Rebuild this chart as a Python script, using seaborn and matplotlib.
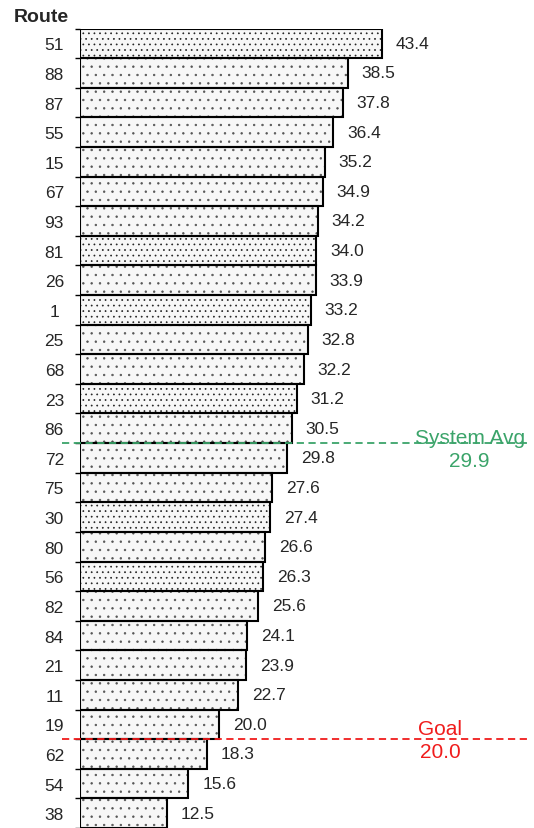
import pandas as pd
import matplotlib.pyplot as plt
import seaborn as sns
import numpy as np

# Route values, already sorted high to low
routes = ['51', '88', '87', '55', '15', '67', '93', '81', '26', '1', '25', '68', '23', '86',
          '72', '75', '30', '80', '56', '82', '84', '21', '11', '19', '62', '54', '38']
values = [43.4, 38.5, 37.8, 36.4, 35.2, 34.9, 34.2, 34.0, 33.9, 33.2, 32.8, 32.2, 31.2, 30.5,
          29.8, 27.6, 27.4, 26.6, 26.3, 25.6, 24.1, 23.9, 22.7, 20.0, 18.3, 15.6, 12.5]
# routes drawn with the denser dot pattern
dense_routes = ['51', '81', '1', '23', '30', '56']

system_avg = 29.9
goal = 20.0

green = '#3ba46a'
red = '#f01c1c'

sns.set_style('white')
plt.rcParams['font.family'] = ['Liberation Sans', 'DejaVu Sans']
plt.rcParams['hatch.linewidth'] = 0.5

df = pd.DataFrame({'Route': routes, 'Value': values})

fig = plt.figure(figsize=(5.34, 8.29), dpi=100)
ax = fig.add_axes([80 / 534, 0, 450 / 534, (829 - 29.5) / 829])

# layer 1: light fill with grey dot hatching
sns.barplot(data=df, x='Value', y='Route', order=routes, orient='h',
            color='#f7f7f7', saturation=1, edgecolor='#555555', linewidth=0,
            width=1.0, ax=ax)
for patch, r in zip(ax.patches, routes):
    if r in dense_routes:
        patch.set_hatch('...')
        patch.set_edgecolor('#222222')
    else:
        patch.set_hatch('..')
        patch.set_edgecolor('#555555')

# layer 2: black outlines on top
sns.barplot(data=df, x='Value', y='Route', order=routes, orient='h',
            color='black', fill=False, linewidth=1.5, width=1.0, ax=ax)

ax.bar_label(ax.containers[-1], fmt='%.1f', padding=10, fontsize=12.5)

ax.set_xlim(0, 64.75)
ax.set_ylim(len(routes) - 0.5, -0.5)
for s in ax.spines.values():
    s.set_visible(False)
ax.set_xticks([])
ax.set_xlabel('')
ax.set_ylabel('')

# category labels centred, small ticks on the bar boundaries
ax.tick_params(axis='y', which='major', length=0, pad=18.5, labelsize=12.5)
for lab in ax.get_yticklabels():
    lab.set_ha('center')
ax.set_yticks(np.arange(-0.5, len(routes), 1), minor=True)
ax.tick_params(axis='y', which='minor', left=True, length=3.5, width=1, color='black')

# reference lines sit on the boundary where the sorted values cross them
avg_pos = sum(v > system_avg for v in values) - 0.5
goal_pos = sum(v >= goal for v in values) - 0.5

ax.axhline(avg_pos, xmin=-0.04, xmax=0.998, color=green, lw=1.3,
           dashes=(4, 2.5), clip_on=False, zorder=5)
ax.axhline(goal_pos, xmin=-0.04, xmax=0.998, color=red, lw=1.3,
           dashes=(4, 2.5), clip_on=False, zorder=5)

ax.text(56.1, avg_pos - 0.18, 'System Avg', ha='center', va='center', color=green, fontsize=15)
ax.text(56.0, avg_pos + 0.6, f'{system_avg:.1f}', ha='center', va='center', color=green, fontsize=15)
ax.text(51.8, goal_pos - 0.37, 'Goal', ha='center', va='center', color=red, fontsize=15)
ax.text(51.8, goal_pos + 0.4, f'{goal:.1f}', ha='center', va='center', color=red, fontsize=15)

fig.text(41.5 / 534, 1 - 17 / 829, 'Route', ha='center', va='center',
         fontweight='bold', fontsize=14)

fig.savefig('out.png', dpi=100)
